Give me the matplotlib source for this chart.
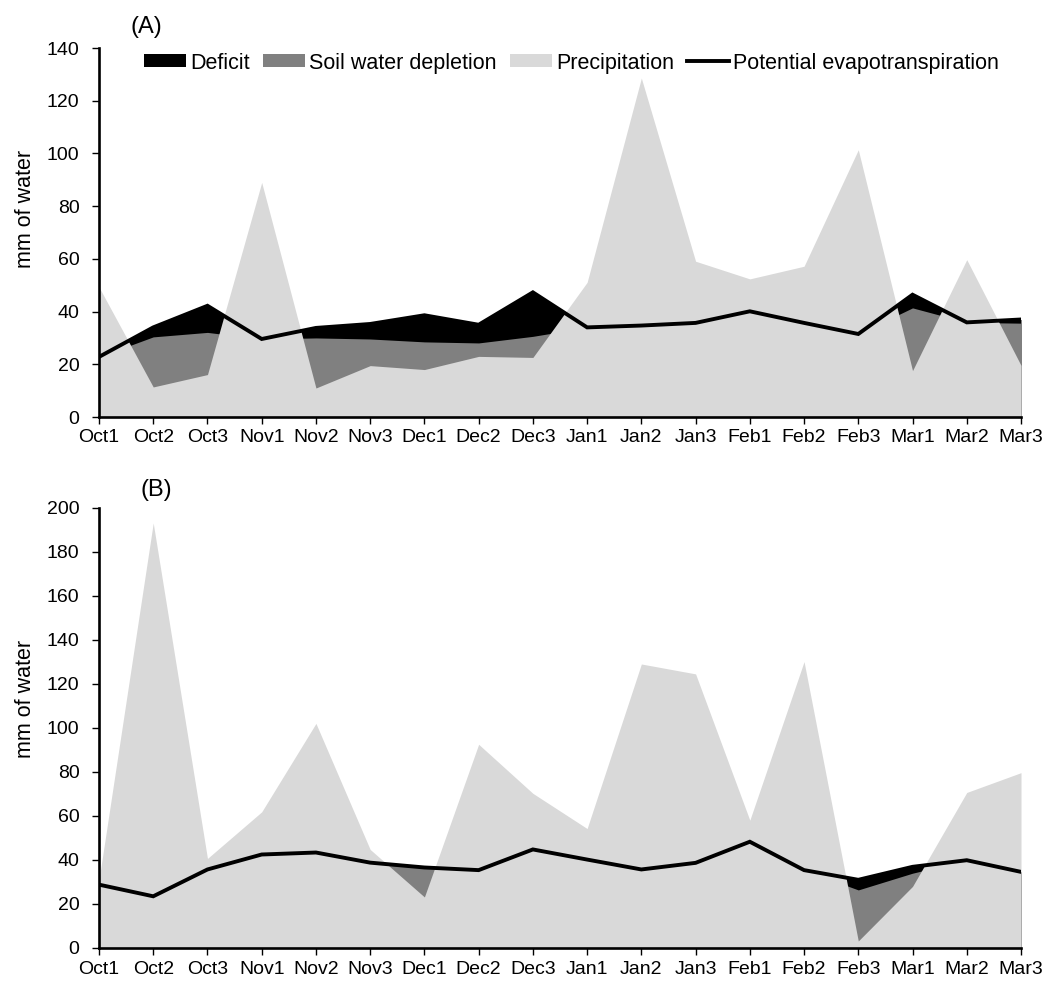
import numpy as np
import matplotlib
matplotlib.use('Agg')
import matplotlib.pyplot as plt

plt.rcParams['font.family'] = ['Liberation Sans', 'DejaVu Sans']

periods = ['Oct1', 'Oct2', 'Oct3', 'Nov1', 'Nov2', 'Nov3', 'Dec1', 'Dec2', 'Dec3',
           'Jan1', 'Jan2', 'Jan3', 'Feb1', 'Feb2', 'Feb3', 'Mar1', 'Mar2', 'Mar3']

# panel A: precipitation, water used (precip + soil water depletion), potential ET
precip_a = [49.3, 11.4, 16.1, 89.0, 11.0, 19.5, 18.0, 23.0, 22.6,
            51.1, 128.6, 59.1, 52.4, 57.2, 101.4, 17.6, 59.7, 19.6]
depletion_a = [22.8, 30.4, 32.1, 29.6, 30.0, 29.6, 28.5, 28.1, 30.6,
               34.0, 34.7, 35.7, 40.1, 35.7, 31.5, 41.4, 35.9, 35.6]
pet_a = [22.8, 34.0, 42.2, 29.6, 33.8, 35.3, 38.6, 35.0, 47.3,
         34.0, 34.7, 35.7, 40.1, 35.7, 31.5, 46.4, 35.9, 37.0]

# panel B
precip_b = [31.0, 193.2, 40.7, 61.9, 102.1, 44.8, 23.2, 92.6, 70.3,
            54.3, 129.1, 124.6, 58.1, 130.2, 3.2, 28.0, 70.7, 79.7]
depletion_b = [28.8, 23.5, 35.7, 42.5, 43.4, 38.8, 36.6, 35.4, 44.8,
               40.2, 35.7, 38.7, 48.3, 35.4, 26.4, 34.0, 39.9, 34.6]
pet_b = [28.8, 23.5, 35.7, 42.5, 43.4, 38.8, 36.6, 35.4, 44.8,
         40.2, 35.7, 38.7, 48.3, 35.4, 31.0, 36.9, 39.9, 34.6]

C_PRECIP = '#d9d9d9'
C_DEPL = '#808080'
C_DEF = '#000000'

fig = plt.figure(figsize=(10.46, 9.81), dpi=100)
ax_a = fig.add_axes([99 / 1046, 1 - 417 / 981, 922 / 1046, 369 / 981])
ax_b = fig.add_axes([99 / 1046, 1 - 948 / 981, 922 / 1046, 440 / 981])


def draw_panel(ax, precip, depletion, pet, ymax, step):
    x = np.arange(len(periods))
    # Excel-style overlapping areas: back to front
    f_def = ax.fill_between(x, 0, pet, color=C_DEF, lw=0)
    f_dep = ax.fill_between(x, 0, depletion, color=C_DEPL, lw=0)
    f_pre = ax.fill_between(x, 0, precip, color=C_PRECIP, lw=0)
    line, = ax.plot(x, pet, color='black', lw=2.8, solid_joinstyle='miter')
    ax.set_xlim(0, len(periods) - 1)
    ax.set_ylim(0, ymax)
    ax.set_xticks(x)
    ax.set_xticklabels(periods)
    ax.set_yticks(np.arange(0, ymax + 1, step))
    for side in ['top', 'right']:
        ax.spines[side].set_visible(False)
    for side in ['left', 'bottom']:
        ax.spines[side].set_linewidth(1.9)
    ax.tick_params(direction='out', length=5, width=1.0, labelsize=14)
    ax.tick_params(axis='x', pad=4)
    ax.tick_params(axis='y', pad=9)
    ax.set_ylabel('mm of water', fontsize=15.5)
    ax.yaxis.set_label_coords(-0.068, 0.565)
    return f_def, f_dep, f_pre, line


h_def, h_dep, h_pre, h_pet = draw_panel(ax_a, precip_a, depletion_a, pet_a, 140, 20)
draw_panel(ax_b, precip_b, depletion_b, pet_b, 200, 20)

fig.text(131 / 1046, 1 - 38 / 981, '(A)', fontsize=17, ha='left', va='bottom')
fig.text(140 / 1046, 1 - 501 / 981, '(B)', fontsize=17, ha='left', va='bottom')

ax_a.legend([h_def, h_dep, h_pre, h_pet],
            ['Deficit', 'Soil water depletion', 'Precipitation', 'Potential evapotranspiration'],
            loc='center left', bbox_to_anchor=(144 / 1046, 1 - 63 / 981),
            bbox_transform=fig.transFigure, ncol=4, frameon=False, fontsize=15.5,
            handlelength=1.95, handleheight=0.55, handletextpad=0.2,
            columnspacing=0.6, borderpad=0, borderaxespad=0)

fig.savefig('out.png', dpi=100)
